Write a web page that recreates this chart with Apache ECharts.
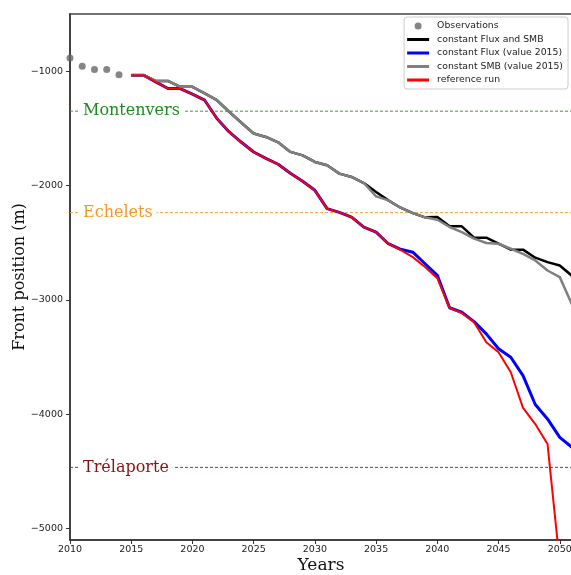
<!DOCTYPE html>
<html>
<head>
<meta charset="utf-8">
<script src="https://cdn.jsdelivr.net/npm/echarts@6/dist/echarts.min.js"></script>
<style>
  html, body { margin: 0; padding: 0; background: #fff; }
  #chart { width: 571px; height: 575px; }
</style>
</head>
<body>
<div id="chart"></div>
<script>
// Observed front positions (m)
const obsYears = [2010, 2011, 2012, 2013, 2014];
const obsValues = [-884, -956, -985, -985, -1032];

// Model years
const runYears = [2015, 2016, 2017, 2018, 2019, 2020, 2021, 2022, 2023, 2024,
                  2025, 2026, 2027, 2028, 2029, 2030, 2031, 2032, 2033, 2034,
                  2035, 2036, 2037, 2038, 2039, 2040, 2041, 2042, 2043, 2044,
                  2045, 2046, 2047, 2048, 2049, 2050, 2051];

// constant Flux and SMB
const constFluxSmb = [-1035, -1035, -1085, -1085, -1137, -1137, -1195, -1254, -1355, -1451,
                      -1545, -1575, -1622, -1706, -1736, -1794, -1823, -1896, -1925, -1978,
                      -2057, -2130, -2194, -2241, -2278, -2276, -2357, -2357, -2456, -2456,
                      -2509, -2561, -2561, -2631, -2670, -2699, -2790];

// constant Flux (value 2015)
const constFlux = [-1035, -1035, -1093, -1152, -1152, -1201, -1254, -1414, -1531, -1622,
                   -1707, -1762, -1814, -1893, -1963, -2042, -2202, -2235, -2276, -2364,
                   -2407, -2509, -2558, -2583, -2684, -2786, -3069, -3108, -3190, -3297,
                   -3428, -3502, -3662, -3915, -4041, -4202, -4290];

// constant SMB (value 2015)
const constSmb = [-1035, -1035, -1085, -1085, -1137, -1137, -1195, -1254, -1355, -1451,
                  -1545, -1575, -1622, -1706, -1736, -1794, -1823, -1896, -1925, -1978,
                  -2095, -2130, -2194, -2241, -2278, -2299, -2363, -2407, -2465, -2503,
                  -2509, -2553, -2597, -2655, -2743, -2801, -3040];

// reference run (ends in 2050)
const referenceRun = [-1035, -1035, -1093, -1152, -1152, -1201, -1254, -1414, -1531, -1622,
                      -1707, -1762, -1814, -1893, -1963, -2042, -2202, -2235, -2276, -2364,
                      -2407, -2509, -2563, -2626, -2713, -2810, -3069, -3115, -3195, -3370,
                      -3458, -3633, -3945, -4086, -4260, -5300];

// Landmark positions along the valley
const landmarkNames = ['Montenvers', 'Echelets', 'Trélaporte'];
const landmarkValues = [-1350, -2237, -4465];
const landmarkColors = ['#1f8a1f', '#f7962a', '#8b1010'];
const landmarkLineColors = ['#3c9c3c', '#ffa23a', '#9a3030'];

// Axis ranges and ticks
const xRange = [2010, 2051];
const yRange = [-5100, -500];
const xTicks = [2010, 2015, 2020, 2025, 2030, 2035, 2040, 2045, 2050];
const yTicks = [-5000, -4000, -3000, -2000, -1000];

const pairs = (xs, ys) => ys.map((v, i) => [xs[i], v]);
const fmtMinus = v => String(v).replace('-', '\u2212');

const lineIcon = 'path://M0,0H22V3H0Z';

const chart = echarts.init(document.getElementById('chart'), null, { renderer: 'canvas' });

// Dashed horizontal landmark lines across the whole x range, each with its name on the left
const landmarkSeries = landmarkValues.map((v, i) => ({
  name: 'landmark-' + i,
  type: 'line',
  data: [[xRange[0], v], [xRange[1], v]],
  showSymbol: false,
  symbol: 'none',
  silent: true,
  z: 1,
  color: landmarkLineColors[i],
  lineStyle: { color: landmarkLineColors[i], type: [3, 2], width: 1 },
  emphasis: { disabled: true },
  markLine: {
    silent: true,
    symbol: ['none', 'none'],
    animation: false,
    lineStyle: { color: 'rgba(255,255,255,0)', width: 1 },
    label: {
      show: true,
      position: 'insideStart',
      formatter: landmarkNames[i],
      color: landmarkColors[i],
      fontFamily: 'DejaVu Serif',
      fontSize: 16,
      backgroundColor: '#fff',
      padding: [0, 4],
      distance: [9, 0]
    },
    emphasis: { disabled: true },
    data: [{ yAxis: v }]
  }
}));

chart.setOption({
  animation: false,
  backgroundColor: '#fff',
  grid: {
    left: 70, top: 14, bottom: 35, right: -1,
    containLabel: false, outerBoundsMode: 'none',
    show: true, borderColor: '#444', borderWidth: 1.5, backgroundColor: 'transparent'
  },
  legend: {
    orient: 'vertical',
    right: 3, top: 17,
    padding: [3, 5, 3, 3],
    itemWidth: 22, itemHeight: 7, itemGap: 1.5,
    backgroundColor: '#fff',
    borderColor: '#ccc', borderWidth: 1, borderRadius: 3,
    textStyle: { fontFamily: 'DejaVu Sans', fontSize: 9.3, color: '#222', lineHeight: 12, padding: [0, 0, 0, 3] },
    data: [
      { name: 'Observations', icon: 'circle' },
      { name: 'constant Flux and SMB', icon: lineIcon },
      { name: 'constant Flux (value 2015)', icon: lineIcon },
      { name: 'constant SMB (value 2015)', icon: lineIcon },
      { name: 'reference run', icon: lineIcon }
    ]
  },
  xAxis: {
    type: 'value', min: xRange[0], max: xRange[1],
    name: 'Years', nameLocation: 'middle', nameGap: 17, nameMoveOverlap: false,
    nameTextStyle: { fontFamily: 'DejaVu Serif', fontSize: 17, color: '#111' },
    axisLine: { show: true, lineStyle: { color: '#333', width: 1.5 } },
    axisTick: { show: true, inside: false, length: 4, customValues: xTicks, lineStyle: { color: '#333' } },
    axisLabel: { customValues: xTicks, margin: 5, fontFamily: 'DejaVu Sans', fontSize: 9.5, color: '#222', formatter: v => String(v) },
    splitLine: { show: false }
  },
  yAxis: {
    type: 'value', min: yRange[0], max: yRange[1],
    name: 'Front position (m)', nameLocation: 'middle', nameGap: 42, nameMoveOverlap: false,
    nameTextStyle: { fontFamily: 'DejaVu Serif', fontSize: 16, color: '#111' },
    axisLine: { show: true, lineStyle: { color: '#333', width: 1.5 } },
    axisTick: { show: true, inside: false, length: 4, customValues: yTicks, lineStyle: { color: '#333' } },
    axisLabel: { customValues: yTicks, margin: 7, fontFamily: 'DejaVu Sans', fontSize: 9.5, color: '#222', formatter: fmtMinus },
    splitLine: { show: false }
  },
  series: landmarkSeries.concat([
    {
      name: 'Observations', type: 'scatter',
      data: pairs(obsYears, obsValues),
      symbol: 'circle', symbolSize: 7,
      itemStyle: { color: '#666' }
    },
    {
      name: 'constant Flux and SMB', type: 'line',
      data: pairs(runYears, constFluxSmb),
      showSymbol: false, symbol: 'none', clip: true,
      itemStyle: { color: '#000' },
      lineStyle: { color: '#000', width: 2.5, join: 'round' }
    },
    {
      name: 'constant Flux (value 2015)', type: 'line',
      data: pairs(runYears, constFlux),
      showSymbol: false, symbol: 'none', clip: true,
      itemStyle: { color: '#0000ff' },
      lineStyle: { color: '#0000ff', width: 3, join: 'round' }
    },
    {
      name: 'constant SMB (value 2015)', type: 'line',
      data: pairs(runYears, constSmb),
      showSymbol: false, symbol: 'none', clip: true,
      itemStyle: { color: '#808080' },
      lineStyle: { color: '#808080', width: 2.5, join: 'round' }
    },
    {
      name: 'reference run', type: 'line',
      data: pairs(runYears, referenceRun),
      showSymbol: false, symbol: 'none', clip: true,
      itemStyle: { color: '#ff0000' },
      lineStyle: { color: '#ff0000', width: 2, join: 'round' }
    }
  ])
});
</script>
</body>
</html>
